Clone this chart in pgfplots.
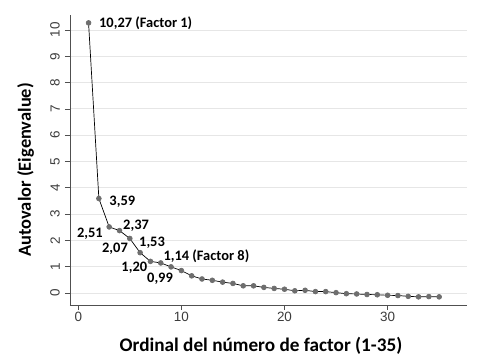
\documentclass[border=0pt]{standalone}
\usepackage{fontspec}
\setmainfont{Carlito}
\newfontfamily\arial{Liberation Sans}
\usepackage{pgfplots}
\pgfplotsset{compat=1.18}
\definecolor{mk}{HTML}{6E6E6E}
\definecolor{grd}{HTML}{E6E6E6}
\definecolor{axc}{HTML}{505050}
\definecolor{tkl}{HTML}{3C3C3C}
\begin{document}
\begin{tikzpicture}
\useasboundingbox (-70bp,-53bp) rectangle (408bp,305bp);
\begin{axis}[
  scale only axis,
  width=397bp, height=290bp,
  xmin=-0.8, xmax=37.7,
  ymin=-0.46, ymax=10.57,
  axis lines*=left,
  axis line style={axc, line width=0.8pt, -},
  xtick={0,10,20,30},
  ytick={0,1,...,10},
  tick align=outside,
  major tick length=5bp,
  tick style={axc, line width=0.6pt},
  ymajorgrids,
  grid style={grd, line width=0.8pt},
  /pgf/number format/assume math mode=true,
  tick label style={font=\arial\fontsize{13.5}{15}\selectfont, text=tkl},
  yticklabel style={rotate=90, anchor=south, inner sep=1.5pt, yshift=3.5bp},
  xticklabel style={inner sep=2pt},
  xlabel={\bfseries\fontsize{19.3}{22}\selectfont Ordinal del número de factor (1-35)},
  ylabel={\bfseries\fontsize{18.5}{22}\selectfont Autovalor (Eigenvalue)},
  every axis x label/.style={at={(axis description cs:0.481,-0.141)}, anchor=center},
  every axis y label/.style={at={(axis description cs:-0.112,0.466)}, anchor=center, rotate=90},
  clip=false,
]
\addplot[black, line width=0.7pt, mark=*, mark size=2.4bp, mark options={mk, fill=mk, draw=mk}] coordinates {
(1,10.27) (2,3.59) (3,2.51) (4,2.37) (5,2.07) (6,1.53) (7,1.20) (8,1.14) (9,0.99)
(10,0.85) (11,0.65) (12,0.53) (13,0.48) (14,0.41) (15,0.36) (16,0.27) (17,0.27)
(18,0.21) (19,0.17) (20,0.14) (21,0.08) (22,0.10) (23,0.05) (24,0.05) (25,0.01)
(26,-0.03) (27,-0.04) (28,-0.06) (29,-0.07) (30,-0.09) (31,-0.10) (32,-0.13)
(33,-0.15) (34,-0.14) (35,-0.15)
};
\begin{scope}[every node/.style={font=\bfseries\fontsize{14.5}{17}\selectfont, inner sep=0pt}]
\node[anchor=west] at (axis cs:2.01,10.27) {10,27 (Factor 1)};
\node[anchor=west] at (axis cs:3.01,3.47) {3,59};
\node[anchor=east] at (axis cs:2.40,2.24) {2,51};
\node[anchor=west] at (axis cs:4.34,2.56) {2,37};
\node[anchor=east] at (axis cs:4.83,1.67) {2,07};
\node[anchor=west] at (axis cs:5.89,1.89) {1,53};
\node[anchor=east] at (axis cs:6.70,0.94) {1,20};
\node[anchor=west] at (axis cs:8.25,1.40) {1,14 (Factor 8)};
\node[anchor=center] at (axis cs:7.93,0.52) {0,99};
\end{scope}
\end{axis}
\end{tikzpicture}
\end{document}
